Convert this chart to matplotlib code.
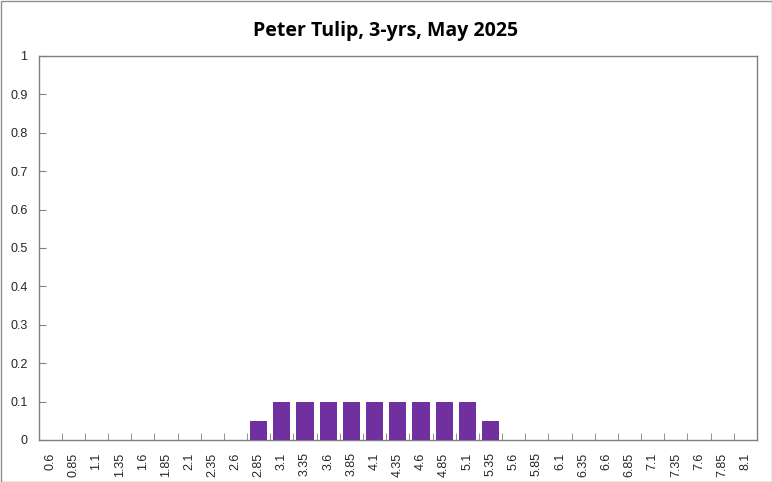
import numpy as np
import matplotlib.pyplot as plt
from matplotlib.patches import Rectangle

labels = ['0.6', '0.85', '1.1', '1.35', '1.6', '1.85', '2.1', '2.35', '2.6', '2.85',
          '3.1', '3.35', '3.6', '3.85', '4.1', '4.35', '4.6', '4.85', '5.1', '5.35',
          '5.6', '5.85', '6.1', '6.35', '6.6', '6.85', '7.1', '7.35', '7.6', '7.85', '8.1']
values = [0, 0, 0, 0, 0, 0, 0, 0, 0, 0.05,
          0.1, 0.1, 0.1, 0.1, 0.1, 0.1, 0.1, 0.1, 0.1, 0.05,
          0, 0, 0, 0, 0, 0, 0, 0, 0, 0, 0]

fig = plt.figure(figsize=(7.72, 4.82), dpi=100)
ax = fig.add_axes([38.5 / 772, 1 - 440 / 482, (757 - 38.5) / 772, (440 - 56) / 482])

x = np.arange(len(labels))
ax.bar(x, values, width=0.74, color='#7030A0', zorder=3)

ax.set_xlim(-0.5, len(labels) - 0.5)
ax.set_ylim(0, 1)
ax.set_yticks(np.arange(0, 1.01, 0.1))
ax.set_yticklabels(['0', '0.1', '0.2', '0.3', '0.4', '0.5', '0.6', '0.7', '0.8', '0.9', '1'])
ax.set_xticks(x)
ax.set_xticklabels(labels, rotation=90)
ax.set_xticks(np.arange(-0.5, len(labels), 1), minor=True)
ax.tick_params(axis='x', which='major', length=0, pad=9, labelsize=9, labelcolor='#262626')
ax.tick_params(axis='x', which='minor', direction='in', length=5, color='#808080')
ax.tick_params(axis='y', direction='in', length=5, color='#808080', labelsize=9,
               labelcolor='#262626', pad=8)
for s in ax.spines.values():
    s.set_color('#808080')
    s.set_linewidth(1)

for t in ax.get_xticklabels() + ax.get_yticklabels():
    t.set_fontfamily('Liberation Sans')

fig.text(0.5, 1 - 31 / 482, 'Peter Tulip, 3-yrs, May 2025', ha='center', va='center',
         fontsize=14, fontweight='bold', fontfamily='Open Sans', color='black')

fig.patches.append(Rectangle((0.5 / 772, 0.5 / 482), 1 - 1 / 772, 1 - 1 / 482,
                             transform=fig.transFigure, fill=False,
                             edgecolor='#909090', linewidth=1))

fig.savefig('out.png', dpi=100)
